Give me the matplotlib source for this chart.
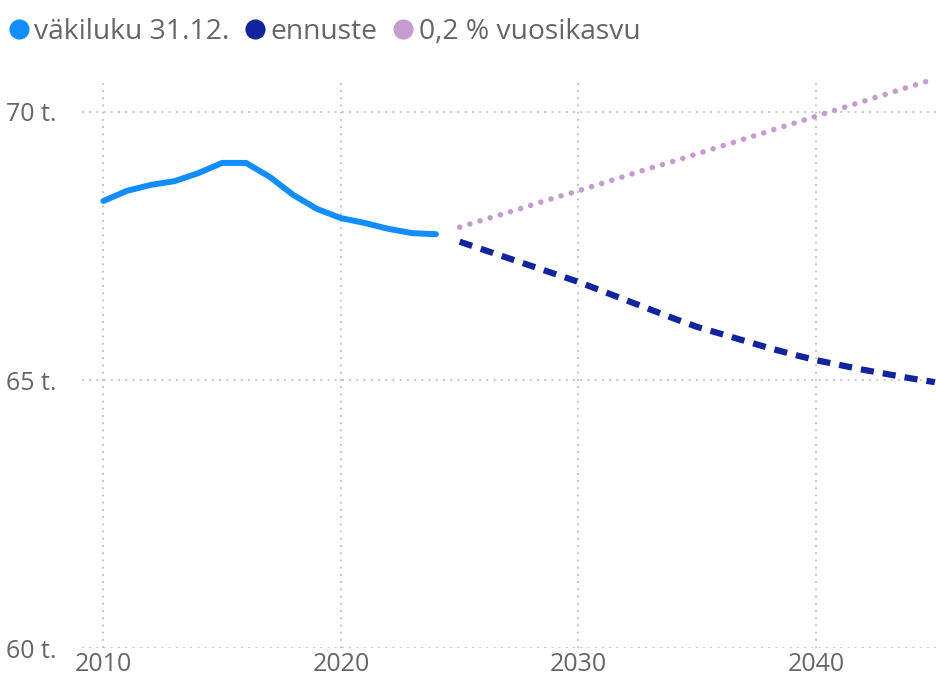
import matplotlib.pyplot as plt
from matplotlib.lines import Line2D

# data (thousands of inhabitants)
years_hist = list(range(2010, 2025))
pop_hist = [68.34, 68.53, 68.64, 68.71, 68.86, 69.05, 69.05, 68.79, 68.45,
            68.19, 68.02, 67.93, 67.82, 67.74, 67.72]

years_proj = list(range(2025, 2046))
pop_forecast = [67.58, 67.43, 67.28, 67.13, 66.98, 66.83, 66.66, 66.49, 66.32,
                66.15, 65.99, 65.86, 65.73, 65.60, 65.48, 65.37, 65.28, 65.19,
                65.11, 65.03, 64.96]
pop_growth = [67.85, 67.99, 68.12, 68.26, 68.40, 68.53, 68.67, 68.81, 68.95,
              69.08, 69.22, 69.36, 69.50, 69.64, 69.78, 69.92, 70.06, 70.20,
              70.34, 70.48, 70.62]

x_ticks = [2010, 2020, 2030, 2040]
y_ticks = [60, 65, 70]
y_labels = ["60 t.", "65 t.", "70 t."]
series_names = ["väkiluku 31.12.", "ennuste", "0,2 % vuosikasvu"]

c_hist = "#118DFF"
c_fore = "#12239E"
c_grow = "#C69BCF"
text_col = "#666666"

plt.rcParams['font.family'] = ['Open Sans', 'DejaVu Sans']

fig = plt.figure(figsize=(9.36, 6.84), dpi=100)
ax = fig.add_axes([0.0876, 0.0526, 0.9124, 0.826])

ax.plot(years_hist, pop_hist, color=c_hist, lw=4.3, solid_capstyle='round',
        solid_joinstyle='round')
ax.plot(years_proj, pop_forecast, color=c_fore, lw=4.5, linestyle=(0, (2.1, 1.45)))
ax.plot(years_proj, pop_growth, color=c_grow, lw=4.0, linestyle=(0, (0.01, 1.9)),
        dash_capstyle='round', clip_on=False)

ax.set_xlim(2009.1, 2045.05)
ax.set_ylim(60, 70.54)
ax.set_xticks(x_ticks)
ax.set_yticks(y_ticks)
ax.set_yticklabels(y_labels)
ax.tick_params(length=0, labelsize=18, colors=text_col, pad=3)
ax.tick_params(axis='y', pad=18)
for s in ax.spines.values():
    s.set_visible(False)
ax.grid(True, color="#BDBDBD", linestyle=(0, (1, 3)), lw=1.3)
ax.set_axisbelow(True)

handles = [Line2D([], [], marker='o', ls='', color=c, markersize=13.5)
           for c in (c_hist, c_fore, c_grow)]
leg = fig.legend(handles, series_names, loc='upper left',
                 bbox_to_anchor=(0.0, 0.985), ncol=3, frameon=False,
                 fontsize=20.3, handletextpad=0.15, columnspacing=0.5,
                 borderaxespad=0.0, borderpad=0.27, handlelength=0.8)
for t in leg.get_texts():
    t.set_color(text_col)

fig.savefig("out.png", dpi=100)
